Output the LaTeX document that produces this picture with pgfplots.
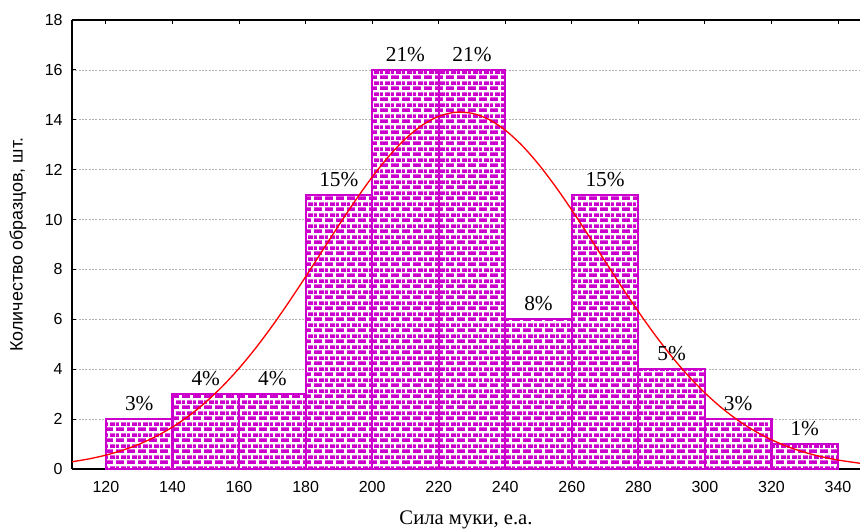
\documentclass[border=0pt]{standalone}
\usepackage{pgfplots}
\pgfplotsset{compat=1.18}
\usepackage{fontspec}
\setmainfont{Liberation Serif}
\newfontfamily\arialf{Liberation Sans}
\usetikzlibrary{patterns}
\definecolor{barcol}{RGB}{204,0,204}
\pgfdeclarepatternformonly{mybricks}{\pgfqpoint{0pt}{0pt}}{\pgfqpoint{7.875pt}{8.25pt}}{\pgfqpoint{7.875pt}{8.25pt}}{%
 \pgfpathrectangle{\pgfqpoint{0pt}{0pt}}{\pgfqpoint{6.1pt}{3.0pt}}%
 \pgfpathrectangle{\pgfqpoint{3.94pt}{4.125pt}}{\pgfqpoint{3.935pt}{3.0pt}}%
 \pgfpathrectangle{\pgfqpoint{0pt}{4.125pt}}{\pgfqpoint{2.16pt}{3.0pt}}%
 \pgfusepath{fill}}
\begin{document}
\begin{tikzpicture}
\begin{axis}[
 width=591pt, height=336.75pt, scale only axis,
 xmin=109.8, xmax=346.6, ymin=0, ymax=18,
 xtick={120,140,...,340}, ytick={0,2,...,18},
 axis y line*=left,
 axis line style={line width=1pt},
 tick style={black, line width=0.8pt},
 tick align=inside, major tick length=3pt,
 ymajorgrids,
 grid style={gray!60, line width=0.5pt, dash pattern=on 1.5pt off 1pt},
 ticklabel style={font=\arialf\fontsize{12}{14}\selectfont},
 xticklabel style={yshift=-6pt},
 yticklabel style={xshift=-3.5pt},
 /pgf/number format/assume math mode=true,
 xlabel={Сила муки, е.а.},
 ylabel={Количество образцов, шт.},
 every axis x label/.style={at={(axis description cs:0.5,0)}, anchor=center, yshift=-38.25pt, font=\fontsize{15.5}{18}\selectfont},
 every axis y label/.style={at={(axis description cs:0,0.5)}, xshift=-40.5pt, rotate=90, anchor=center, font=\arialf\fontsize{13.4}{16}\selectfont},
]
\addplot[ybar interval, fill=white, draw=barcol, line width=1.6pt,
  postaction={pattern=mybricks, pattern color=barcol}]
 coordinates {(120,2) (140,3) (160,3) (180,11) (200,16) (220,16) (240,6) (260,11) (280,4) (300,2) (320,1) (340,1)};
\addplot[red, line width=1pt, smooth] coordinates {
(109.8,0.29) (115,0.408) (120,0.557) (125,0.751) (130,0.996) (135,1.304) (140,1.682) (145,2.138) (150,2.681) (155,3.315)
(160,4.037) (165,4.848) (170,5.740) (175,6.699) (180,7.707) (185,8.742) (190,9.775) (195,10.773) (200,11.704) (205,12.537)
(210,13.238) (215,13.779) (220,14.138) (225,14.301) (230,14.260) (235,14.017) (240,13.583) (245,12.975) (250,12.218)
(255,11.342) (260,10.379) (265,9.363) (270,8.327) (275,7.299) (280,6.308) (285,5.375) (290,4.513) (295,3.736) (300,3.049)
(305,2.454) (310,1.946) (315,1.521) (320,1.172) (325,0.891) (330,0.667) (335,0.493) (340,0.359) (346.6,0.23)};
\addplot[draw=none, mark=none, nodes near coords, point meta=explicit symbolic,
  nodes near coords style={font=\fontsize{16}{19}\selectfont, anchor=south, inner sep=0pt, yshift=6pt}]
 coordinates {(130,2)[3\%] (150,3)[4\%] (170,3)[4\%] (190,11)[15\%] (210,16)[21\%] (230,16)[21\%] (250,6)[8\%] (270,11)[15\%] (290,4)[5\%] (310,2)[3\%] (330,1)[1\%]};
\end{axis}
\pgfresetboundingbox
\path[use as bounding box] ([xshift=-54pt,yshift=-45pt]current axis.south west) rectangle ([yshift=15pt]current axis.north east);
\end{tikzpicture}
\end{document}
